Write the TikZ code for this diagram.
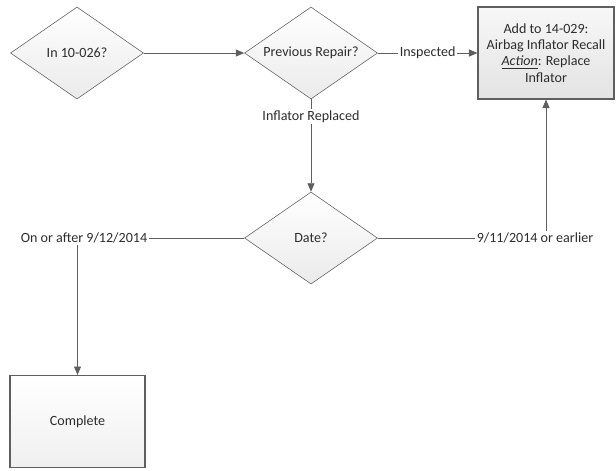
\documentclass[tikz,border=0pt]{standalone}
\usepackage{fontspec}
\setmainfont{Carlito}
\usetikzlibrary{arrows.meta,positioning,shapes.geometric}
\definecolor{lngray}{RGB}{95,95,95}
\definecolor{txtgray}{RGB}{45,45,45}

\begin{document}
\begin{tikzpicture}[x=0.025cm,y=-0.025cm,font=\fontsize{10}{11.5}\selectfont,text=txtgray,
  decision/.style={draw=lngray,diamond,aspect=1.45,inner sep=0pt,minimum width=3.325cm,minimum height=2.3cm,top color=white,bottom color=gray!16},
  actbox/.style={draw=lngray,line width=0.8pt,align=center,minimum width=3.4cm,minimum height=2.3cm},
  tag/.style={inner sep=1pt},
  link/.style={draw=lngray,line width=0.6pt},
  arr/.style={link,-{Triangle[length=6pt,width=5pt]}}]
  \useasboundingbox (0,0) rectangle (616,470);
  \node[decision] (in10) at (77,53) {In 10-026?};
  \node[decision] (prev) at (311,53) {Previous Repair?};
  \node[decision] (date) at (311,238) {Date?};
  \node[actbox,top color=gray!6,bottom color=gray!22] (recall) at (546,53) {Add to 14-029:\\Airbag Inflator Recall\\\underline{\textit{Action}}: Replace\\Inflator};
  \node[actbox,minimum width=3.375cm,top color=white,bottom color=gray!12] (done) at (77.5,421.5) {Complete};
  \node[tag] (early) at (84,238) {On or after 9/12/2014};
  \node[tag] (late) at (535,238) {9/11/2014 or earlier};
  \draw[arr] (in10) -- (prev);
  \draw[arr] (prev) -- node[tag,fill=white] {Inspected} (recall);
  \draw[arr] (prev) -- node[tag,pos=0.19,fill=white] {Inflator Replaced} (date);
  \draw[link] (date) -- (early);
  \draw[link] (date) -- (late);
  \draw[arr] (early.south -| done.north) -- (done);
  \draw[arr] (late.north -| recall.south) -- (recall);
\end{tikzpicture}
\end{document}
